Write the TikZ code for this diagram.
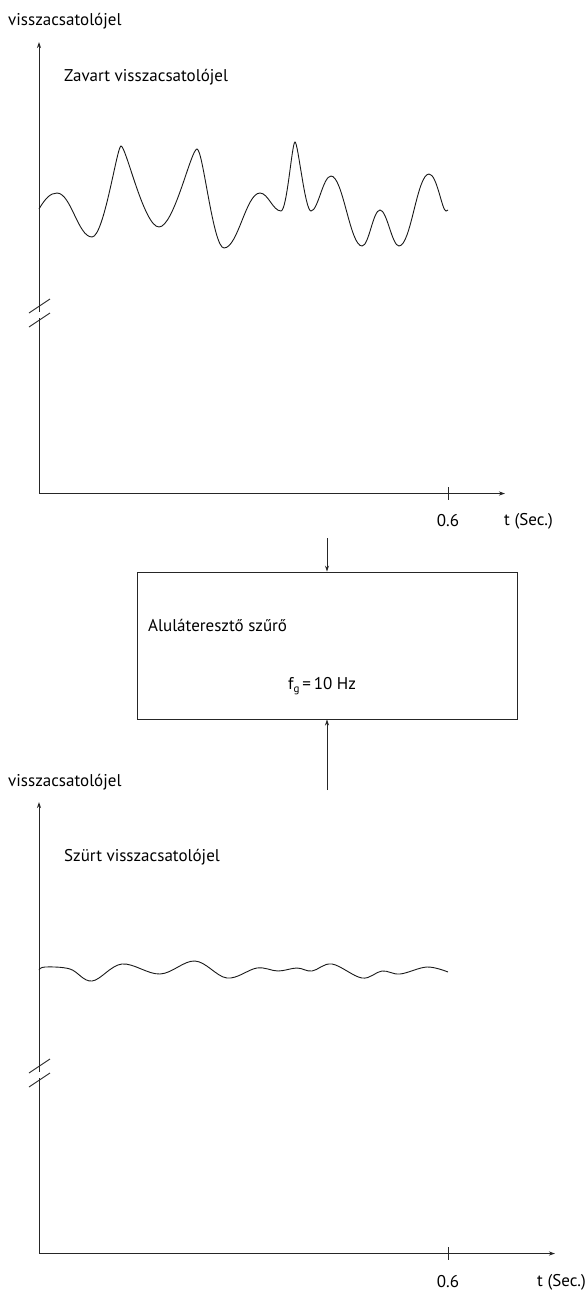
\documentclass[tikz,border=0pt]{standalone}
\usepackage{fontspec}
\setmainfont{PT Sans}
\usetikzlibrary{arrows.meta}
\tikzset{
  ax/.style={line width=0.9pt, draw=black!85},
  tip/.style={-{Stealth[length=6pt,width=4pt]}},
  lbl/.style={font=\fontsize{17}{20}\selectfont, inner sep=0pt},
  wave/.style={line width=0.9pt, draw=black!90},
}
\begin{document}
\begin{tikzpicture}[x=1pt,y=-1pt]
\useasboundingbox (0,0) rectangle (588,1291);

% ---------- top plot ----------
\node[lbl, anchor=west] (ylab1) at (8,21) {visszacsatolójel};
\node[lbl, anchor=west] (title1) at (64,77) {Zavart visszacsatolójel};
\coordinate (o1) at (39,493.5);
\coordinate (ytip1) at (39,42);
\coordinate (xtip1) at (505,493.5);
\draw[ax,tip] (39,311.5) -- (ytip1);
\draw[ax] (39,318) -- (o1);
\draw[ax] (29,313) -- (50,299) (29,327) -- (50,313);
\draw[ax,tip] (o1) -- (xtip1);
\draw[ax] (448,487) -- (448,500);
\node[lbl] (t06a) at (448,521) {0.6};
\node[lbl, anchor=west] (tsa) at (504,521) {t (Sec.)};

\draw[wave] (39,209)
  .. controls (45,199) and (50,193) .. (57,193)
  .. controls (71,193) and (78,237) .. (92,237)
  .. controls (104,237) and (117,146) .. (121,146)
  .. controls (126,146) and (144,227) .. (159,227)
  .. controls (174,227) and (191,149) .. (197,149)
  .. controls (203,149) and (213,248) .. (224,248)
  .. controls (238,248) and (246,193) .. (260,193)
  .. controls (268,193) and (273,211) .. (281,211)
  .. controls (287,211) and (292,142) .. (295,142)
  .. controls (298,142) and (305,211) .. (311,211)
  .. controls (318,211) and (323,176) .. (331,176)
  .. controls (343,176) and (350,246) .. (362,246)
  .. controls (369,246) and (373,210) .. (380,210)
  .. controls (387,210) and (392,246) .. (399,246)
  .. controls (411,246) and (417,174) .. (429,174)
  .. controls (437,174) and (442,211) .. (446,211)
  -- (448,210);

% ---------- filter box ----------
\node[draw, line width=0.9pt, draw=black!85, minimum width=380pt, minimum height=147pt, inner sep=0pt] (lpf) at (327,645.5) {};
\node[lbl, anchor=west] (lpft) at (148,625) {Aluláteresztő szűrő};
\node[lbl, anchor=west] (fg) at (288,686) {f\raisebox{-0.3ex}{\fontsize{11}{11}\selectfont g}\,=\,10 Hz};
\coordinate (inA) at (327,538);
\coordinate (inB) at (327,790);
\draw[ax,tip] (inA) -- (lpf.north);
\draw[ax,tip] (inB) -- (lpf.south);

% ---------- bottom plot ----------
\begin{scope}[shift={(0,760)}]
\node[lbl, anchor=west] (ylab2) at (8,22) {visszacsatolójel};
\node[lbl, anchor=west] (title2) at (64,97) {Szürt visszacsatolójel};
\coordinate (o2) at (39,493.5);
\coordinate (ytip2) at (39,42);
\coordinate (xtip2) at (555,493.5);
\draw[ax,tip] (39,311.5) -- (ytip2);
\draw[ax] (39,318) -- (o2);
\draw[ax] (29,313) -- (50,299) (29,327) -- (50,313);
\draw[ax,tip] (o2) -- (xtip2);
\draw[ax] (448,487) -- (448,500);
\node[lbl] (t06b) at (448,522) {0.6};
\node[lbl, anchor=west] (tsb) at (537,522) {t (Sec.)};
\draw[wave] plot[smooth, tension=0.6] coordinates {
  (39,210) (45,207) (70,209) (92,221) (122,204) (160,214) (195,201)
  (227,218) (257,208) (278,211) (297,208) (312,211) (332,204)
  (362,218) (382,211) (400,214) (427,207) (448,212)};
\end{scope}
\end{tikzpicture}
\end{document}
